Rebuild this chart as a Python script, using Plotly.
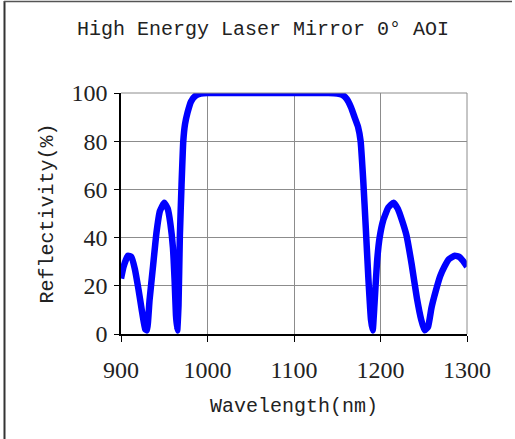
import plotly.graph_objects as go

# Measured reflectance spectrum of the mirror coating (normal incidence)
wavelength_nm = [
    900, 903, 908, 912, 916, 920, 924, 928, 930, 933, 937, 941, 945, 950, 954,
    957, 960, 962, 963.5, 965, 966.5, 968, 970, 972, 974, 977, 981, 986, 992,
    1000, 1050, 1100, 1140, 1150, 1156, 1161, 1166, 1170, 1174, 1177, 1180,
    1183, 1186, 1189, 1191, 1193, 1196, 1199, 1203, 1209, 1215, 1220, 1225,
    1230, 1236, 1242, 1247, 1251, 1255, 1259, 1264, 1269, 1274, 1279, 1286,
    1291, 1295, 1300,
]
reflectivity_pct = [
    23, 28, 32.5, 32, 27, 19, 10, 2, 1.5, 14, 28, 42, 51, 54.5, 52,
    46, 36, 22, 8, 1.5, 12, 40, 62, 80, 87, 92, 96.5, 98.8, 99.7,
    100, 100, 100, 100, 99.8, 99.2, 97.5, 94, 90, 86, 80, 64,
    44, 23, 6, 1.5, 12, 30, 40, 47, 52.5, 54.5, 52, 47,
    41, 29, 15, 6, 1.5, 3, 11, 18, 24, 28, 31, 32.5,
    32, 30.5, 28,
]

x_ticks = [900, 1000, 1100, 1200, 1300]
y_ticks = [0, 20, 40, 60, 80, 100]

title_text = "High Energy Laser Mirror 0° AOI"
x_title = "Wavelength(nm)"
y_title = "Reflectivity(%)"

W, H = 515, 439
L, R, T, B = 121, 48, 93, 105
pw, ph = W - L - R, H - T - B


def px_to_paper_x(px):
    return (px - L) / pw


def py_to_paper_y(py):
    return (H - B - py) / ph


mono = "Liberation Mono, DejaVu Sans Mono, monospace"
serif = "Liberation Serif, DejaVu Serif, serif"

fig = go.Figure()
fig.add_trace(go.Scatter(
    x=wavelength_nm, y=reflectivity_pct, mode="lines",
    line=dict(color="#0000FF", width=6.5, shape="spline", smoothing=0.4),
    showlegend=False, hoverinfo="x+y",
))

fig.update_layout(
    width=W, height=H,
    margin=dict(l=L, r=R, t=T, b=B),
    paper_bgcolor="white", plot_bgcolor="white",
    xaxis=dict(
        range=[900, 1300], tickvals=x_ticks, ticktext=[str(v) for v in x_ticks],
        showgrid=True, gridcolor="#8c8c8c", gridwidth=1,
        showline=True, linecolor="black", linewidth=1.5,
        ticks="outside", ticklen=6, tickcolor="black", tickwidth=1,
        tickfont=dict(family=serif, size=24, color="#222"),
        ticklabelstandoff=7,
        zeroline=False, fixedrange=True,
        title=dict(text=x_title, font=dict(family=mono, size=20, color="#222"),
                   standoff=16),
    ),
    yaxis=dict(
        range=[0, 100], tickvals=y_ticks, ticktext=[str(v) for v in y_ticks],
        showgrid=True, gridcolor="#8c8c8c", gridwidth=1,
        showline=True, linecolor="black", linewidth=1.5,
        ticks="outside", ticklen=5, tickcolor="black", tickwidth=1,
        tickfont=dict(family=serif, size=24, color="#222"),
        ticklabelstandoff=2,
        zeroline=False, fixedrange=True,
        title=dict(text=y_title, font=dict(family=mono, size=20, color="#222"),
                   standoff=12),
    ),
    shapes=[
        # plot-area border on top and right (grey like the grid)
        dict(type="line", xref="paper", yref="paper", x0=0, x1=1, y0=1, y1=1,
             line=dict(color="#8c8c8c", width=1)),
        dict(type="line", xref="paper", yref="paper", x0=1, x1=1, y0=0, y1=1,
             line=dict(color="#8c8c8c", width=1)),
        # outer frame (left and top edges)
        dict(type="line", xref="paper", yref="paper",
             x0=px_to_paper_x(4.5), x1=px_to_paper_x(4.5),
             y0=py_to_paper_y(1), y1=py_to_paper_y(H + 2),
             line=dict(color="#333", width=2)),
        dict(type="line", xref="paper", yref="paper",
             x0=px_to_paper_x(4), x1=px_to_paper_x(512),
             y0=py_to_paper_y(1.5), y1=py_to_paper_y(1.5),
             line=dict(color="#555", width=1.5)),
    ],
    annotations=[
        dict(text=title_text, xref="paper", yref="paper",
             x=px_to_paper_x(262.5), y=py_to_paper_y(29),
             xanchor="center", yanchor="middle", showarrow=False,
             font=dict(family=mono, size=20, color="#222")),
    ],
)

fig.write_html("out.html")
